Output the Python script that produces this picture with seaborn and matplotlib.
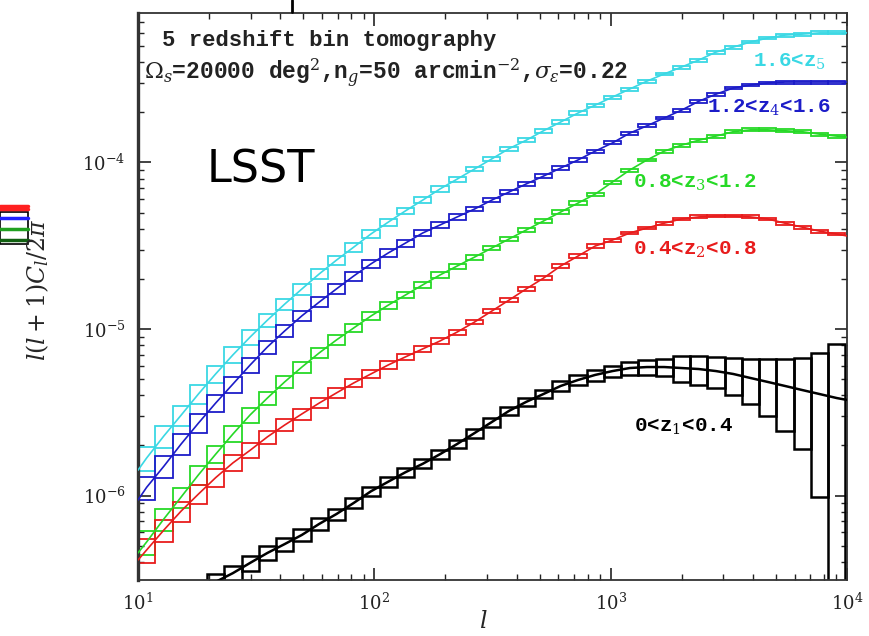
import numpy as np
import pandas as pd
import matplotlib
matplotlib.use("Agg")
import matplotlib.pyplot as plt
from matplotlib.patches import Rectangle
from matplotlib.lines import Line2D
from matplotlib.ticker import LogLocator, NullFormatter, FixedLocator, FixedFormatter
import seaborn as sns

# ---------------- data ----------------
ell_edges = [10, 11.83, 14.0, 16.56, 19.59, 23.17, 27.42, 32.43, 38.37, 45.39,
             53.70, 63.53, 75.16, 88.92, 105.2, 124.5, 147.2, 174.2, 206.1, 243.8,
             288.4, 341.2, 403.6, 477.5, 564.9, 668.3, 790.7, 935.4, 1106.6, 1309.2,
             1548.8, 1832.3, 2167.7, 2564.5, 3033.9, 3589.2, 4246.2, 5023.4, 5943.0,
             7030.8, 8317.6, 9840.0]
ell_range = [10, 10000]

# theory curves: value at l=10, at each bin centre, and at l=10^4
cl_z5 = [1.42e-6, 1.68e-6, 2.28e-6, 3.04e-6, 4.07e-6, 5.37e-6, 6.99e-6, 8.95e-6, 1.13e-5,
         1.41e-5, 1.74e-5, 2.14e-5, 2.59e-5, 3.10e-5, 3.72e-5, 4.38e-5, 5.12e-5, 5.94e-5,
         6.93e-5, 7.95e-5, 9.13e-5, 1.05e-4, 1.21e-4, 1.36e-4, 1.55e-4, 1.75e-4, 1.98e-4,
         2.21e-4, 2.47e-4, 2.76e-4, 3.08e-4, 3.40e-4, 3.74e-4, 4.12e-4, 4.60e-4, 4.93e-4,
         5.29e-4, 5.59e-4, 5.82e-4, 5.90e-4, 6.0e-4, 6.0e-4, 6.0e-4]
cl_z4 = [9.4e-7, 1.12e-6, 1.50e-6, 2.04e-6, 2.72e-6, 3.59e-6, 4.67e-6, 6.08e-6, 7.80e-6,
         9.73e-6, 1.20e-5, 1.45e-5, 1.74e-5, 2.08e-5, 2.46e-5, 2.86e-5, 3.28e-5, 3.77e-5,
         4.21e-5, 4.71e-5, 5.25e-5, 5.94e-5, 6.64e-5, 7.43e-5, 8.28e-5, 9.26e-5, 1.035e-4,
         1.17e-4, 1.31e-4, 1.50e-4, 1.66e-4, 1.85e-4, 2.06e-4, 2.33e-4, 2.57e-4, 2.80e-4,
         2.92e-4, 3.00e-4, 3.04e-4, 3.04e-4, 3.04e-4, 3.04e-4, 3.04e-4]
cl_z3 = [4.52e-7, 5.26e-7, 7.24e-7, 9.8e-7, 1.33e-6, 1.77e-6, 2.34e-6, 3.05e-6, 3.85e-6,
         4.81e-6, 5.91e-6, 7.18e-6, 8.59e-6, 1.014e-5, 1.196e-5, 1.39e-5, 1.60e-5, 1.84e-5,
         2.11e-5, 2.39e-5, 2.70e-5, 3.06e-5, 3.47e-5, 3.93e-5, 4.45e-5, 5.04e-5, 5.70e-5,
         6.46e-5, 7.63e-5, 9.00e-5, 1.035e-4, 1.17e-4, 1.27e-4, 1.36e-4, 1.44e-4, 1.53e-4,
         1.57e-4, 1.57e-4, 1.55e-4, 1.53e-4, 1.48e-4, 1.44e-4, 1.42e-4]
cl_z2 = [4.10e-7, 4.71e-7, 6.21e-7, 8.07e-7, 1.02e-6, 1.28e-6, 1.57e-6, 1.87e-6, 2.25e-6,
         2.65e-6, 3.09e-6, 3.59e-6, 4.13e-6, 4.74e-6, 5.37e-6, 6.08e-6, 6.80e-6, 7.59e-6,
         8.47e-6, 9.59e-6, 1.10e-5, 1.28e-5, 1.49e-5, 1.74e-5, 2.02e-5, 2.39e-5, 2.74e-5,
         3.15e-5, 3.42e-5, 3.77e-5, 4.04e-5, 4.32e-5, 4.58e-5, 4.71e-5, 4.77e-5, 4.77e-5,
         4.71e-5, 4.58e-5, 4.32e-5, 4.09e-5, 3.87e-5, 3.72e-5, 3.62e-5]
cl_z1 = [1.67e-7, 1.79e-7, 2.03e-7, 2.33e-7, 2.64e-7, 3.03e-7, 3.42e-7, 3.94e-7, 4.52e-7,
         5.11e-7, 5.80e-7, 6.75e-7, 7.74e-7, 9.02e-7, 1.06e-6, 1.21e-6, 1.38e-6, 1.55e-6,
         1.77e-6, 2.04e-6, 2.37e-6, 2.76e-6, 3.22e-6, 3.65e-6, 4.07e-6, 4.55e-6, 4.94e-6,
         5.30e-6, 5.59e-6, 5.83e-6, 5.91e-6, 5.91e-6, 5.83e-6, 5.75e-6, 5.59e-6, 5.37e-6,
         5.08e-6, 4.81e-6, 4.55e-6, 4.30e-6, 4.07e-6, 3.85e-6, 3.75e-6]

# fractional 1-sigma errors of the band powers (box half-heights)
frac_err_colored = [0.16, 0.15, 0.14, 0.13, 0.12, 0.11, 0.10, 0.09, 0.08, 0.075,
                    0.07, 0.065, 0.06, 0.055, 0.05, 0.046, 0.042, 0.038, 0.035, 0.032,
                    0.03, 0.028, 0.026, 0.025, 0.024, 0.023, 0.022, 0.021, 0.02, 0.02,
                    0.02, 0.02, 0.02, 0.02, 0.02, 0.02, 0.02, 0.02, 0.02, 0.02, 0.02]
frac_err_z1 = [0.16, 0.15, 0.14, 0.13, 0.12, 0.11, 0.10, 0.095, 0.09, 0.085,
               0.08, 0.075, 0.07, 0.068, 0.066, 0.064, 0.062, 0.06, 0.06, 0.06,
               0.06, 0.06, 0.06, 0.06, 0.065, 0.07, 0.075, 0.08, 0.09, 0.10,
               0.12, 0.18, 0.197, 0.214, 0.249, 0.30, 0.374, 0.46, 0.56, 0.76, 1.10]

series_labels = [r"1.6<z$_5$", r"1.2<z$_4$<1.6", r"0.8<z$_3$<1.2",
                 r"0.4<z$_2$<0.8", r"0<z$_1$<0.4"]
series_colors = ["#3ad8e4", "#1c1cc8", "#26d926", "#e81c1c", "#000000"]
x_tick_vals = [10, 100, 1000, 10000]
x_tick_text = [r"$10^{1}$", r"$10^{2}$", r"$10^{3}$", r"$10^{4}$"]
y_tick_vals = [1e-6, 1e-5, 1e-4]
y_tick_text = [r"$10^{-6}$", r"$10^{-5}$", r"$10^{-4}$"]
title_line1 = "5 redshift bin tomography"
title_line2 = (r"$\Omega_s$=20000 deg$^2$,n$_g$=50 arcmin$^{-2}$,"
               r"$\sigma_\epsilon$=0.22")
survey_name = "LSST"

# ---------------- style ----------------
sns.set_style("ticks")
plt.rcParams["font.family"] = ["DejaVu Serif", "DejaVu Sans"]
plt.rcParams["mathtext.fontset"] = "custom"
plt.rcParams["mathtext.rm"] = "DejaVu Serif"
plt.rcParams["mathtext.it"] = "DejaVu Serif:italic"
plt.rcParams["mathtext.bf"] = "DejaVu Serif:bold"

W, H = 870, 636
fig = plt.figure(figsize=(W / 100, H / 100), dpi=100)
ax = fig.add_axes([138 / W, 56 / H, 709 / W, 567 / H])

edges = np.array(ell_edges)
centres = np.sqrt(edges[:-1] * edges[1:])
ell_curve = np.concatenate([[ell_range[0]], centres, [ell_range[1]]])

all_cl = [cl_z5, cl_z4, cl_z3, cl_z2, cl_z1]
all_err = [frac_err_colored] * 4 + [frac_err_z1]

rows = []
for lab, cl in zip(series_labels, all_cl):
    for l, c in zip(ell_curve, cl):
        rows.append({"ell": l, "Cl": c, "bin": lab})
df = pd.DataFrame(rows)

# boxes (band powers with errors)
for col, cl, err in zip(series_colors, all_cl, all_err):
    band = np.array(cl[1:-1])
    f = np.array(err)
    lo = np.clip(band * (1 - f), 1e-12, None)
    hi = band * (1 + f)
    lw = 1.8 if col == "#000000" else 1.3
    for k in range(len(band)):
        ax.add_patch(Rectangle((edges[k], lo[k]), edges[k + 1] - edges[k], hi[k] - lo[k],
                               fill=False, edgecolor=col, lw=lw, zorder=2))

# theory curves
for lab, col in zip(series_labels, series_colors):
    sub = df[df["bin"] == lab]
    sns.lineplot(data=sub, x="ell", y="Cl", color=col, ax=ax, sort=True,
                 lw=(1.8 if col == "#000000" else 1.2), zorder=3, legend=False)

ax.set_xscale("log")
ax.set_yscale("log")
ax.set_xlim(10, 10000)
ax.set_ylim(3.11e-7, 7.9e-4)
ax.set_xlabel("")
ax.set_ylabel("")

ax.xaxis.set_major_locator(FixedLocator(x_tick_vals))
ax.xaxis.set_major_formatter(FixedFormatter(x_tick_text))
ax.yaxis.set_major_locator(FixedLocator(y_tick_vals))
ax.yaxis.set_major_formatter(FixedFormatter(y_tick_text))
ax.xaxis.set_minor_locator(LogLocator(base=10, subs=np.arange(2, 10)))
ax.yaxis.set_minor_locator(LogLocator(base=10, subs=np.arange(2, 10)))
ax.xaxis.set_minor_formatter(NullFormatter())
ax.yaxis.set_minor_formatter(NullFormatter())
ax.tick_params(which="both", direction="in", top=True, right=True, colors="#222222",
               labelsize=13)
ax.tick_params(which="major", length=9, width=1.2)
ax.tick_params(which="minor", length=4.5, width=1.0)
ax.tick_params(axis="y", pad=9)
ax.tick_params(axis="x", pad=9)
for s in ax.spines.values():
    s.set_linewidth(1.3)
    s.set_color("#333333")
ax.spines["left"].set_linewidth(2.4)

mono = "Liberation Mono"
ax.text(0.034, 0.952, title_line1, transform=ax.transAxes, family=mono,
        fontsize=16, fontweight="bold", va="center", ha="left", color="#222222")
ax.text(0.008, 0.894, title_line2, transform=ax.transAxes, family=mono,
        fontsize=16.5, fontweight="bold", va="center", ha="left", color="#222222")
ax.text(0.097, 0.723, survey_name, transform=ax.transAxes, family="DejaVu Sans",
        fontsize=32, va="center", ha="left", color="black")

label_pos = [(0.867, 0.914), (0.803, 0.832), (0.698, 0.700), (0.698, 0.582), (0.700, 0.270)]
for lab, col, (px, py) in zip(series_labels, series_colors, label_pos):
    ax.text(px, py, lab, transform=ax.transAxes, family=mono, fontsize=15,
            fontweight="bold", color=col, va="center", ha="left")

# axis labels
fig.text(38 / W, 1 - 290 / H, r"$l(l+1)C_l/2\pi$", rotation=90, fontsize=17,
         ha="center", va="center")
fig.text(483 / W, 1 - 622 / H, r"$l$", fontsize=17, ha="center", va="center")

# remnants of neighbouring panels at the figure edges
fig.add_artist(Line2D([292 / W, 292 / W], [1.0, 1 - 12 / H], color="black", lw=2))
for y0, col in [(206, "#ff2020"), (209, "#ff2020"), (218, "#2020ff"),
                (229, "#20a020"), (240, "#106010")]:
    fig.add_artist(Line2D([0, 28 / W], [1 - y0 / H, 1 - y0 / H], color=col, lw=2.5))
fig.add_artist(Rectangle((0, 1 - 244 / H), 28 / W, 32 / H, fill=False,
                         edgecolor="black", lw=1.2, transform=fig.transFigure))

fig.savefig("out.png", dpi=100)
